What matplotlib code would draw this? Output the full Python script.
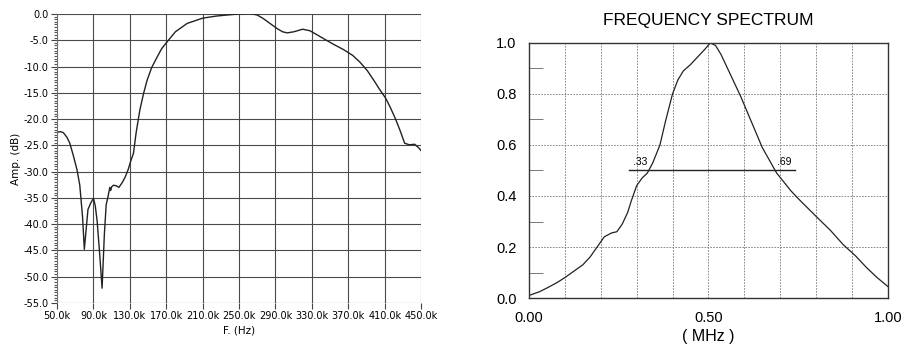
import matplotlib as mpl
import matplotlib.pyplot as plt
import numpy as np

# left panel: amplitude response (kHz, dB)
fKhz = [50, 54, 57, 61, 64, 68, 72, 75, 78, 80, 82, 84, 87, 90, 92, 94, 97, 99.5,
        102, 104, 106, 108, 109, 110, 112, 115, 118, 122, 125, 128, 131, 134, 137,
        141, 145, 149, 154, 160, 165, 171, 180, 193, 210, 225, 237, 250, 262, 270,
        276, 284, 292, 298, 303, 310, 320, 328, 336, 345, 353, 365, 375, 383, 391,
        398, 405, 411, 416, 422, 427, 432, 437, 443, 447, 450]
ampDb = [-22.5, -22.4, -22.6, -23.5, -24.6, -27.0, -29.7, -32.6, -38.5, -44.8, -41.0,
         -37.2, -36.0, -35.1, -36.5, -39.3, -46.0, -52.2, -42.0, -36.3, -34.8, -33.0,
         -33.6, -32.9, -32.6, -32.7, -33.0, -32.0, -31.0, -29.7, -28.0, -26.5, -22.5,
         -18.3, -15.2, -12.6, -10.2, -8.2, -6.6, -5.3, -3.4, -1.8, -0.8, -0.4, -0.2,
         0.0, 0.1, -0.2, -0.8, -1.8, -2.8, -3.4, -3.6, -3.4, -2.9, -3.2, -4.0, -4.9,
         -5.7, -6.8, -7.9, -9.2, -10.8, -12.6, -14.5, -16.0, -17.7, -20.0, -22.2,
         -24.6, -24.9, -24.8, -25.4, -26.0]

# right panel: normalised spectrum (MHz)
fMhz = [0.00, 0.03, 0.058, 0.08, 0.10, 0.125, 0.15, 0.17, 0.19, 0.21, 0.23, 0.245,
        0.26, 0.275, 0.285, 0.30, 0.315, 0.33, 0.345, 0.365, 0.38, 0.40, 0.415, 0.43,
        0.45, 0.47, 0.49, 0.505, 0.52, 0.535, 0.55, 0.57, 0.59, 0.62, 0.65, 0.67,
        0.69, 0.71, 0.73, 0.75, 0.775, 0.80, 0.84, 0.875, 0.91, 0.94, 0.97, 1.00]
spec = [0.01, 0.025, 0.045, 0.062, 0.08, 0.105, 0.13, 0.16, 0.20, 0.24, 0.255, 0.26,
        0.29, 0.335, 0.38, 0.44, 0.47, 0.49, 0.53, 0.60, 0.69, 0.80, 0.855, 0.89,
        0.915, 0.945, 0.975, 1.0, 0.99, 0.955, 0.91, 0.85, 0.79, 0.69, 0.59, 0.54,
        0.49, 0.455, 0.42, 0.39, 0.355, 0.32, 0.265, 0.21, 0.165, 0.12, 0.08, 0.045]
halfLevel = 0.5
halfLo, halfHi = 0.33, 0.69
halfLineX = [0.28, 0.74]

fig = plt.figure(figsize=(9.01, 3.49), dpi=100, facecolor="w")

# ---- left: amplitude in dB
ax1 = fig.add_axes([0.0633, 0.132, 0.404, 0.828])
ax1.plot(fKhz, ampDb, "-", color="#222222", lw=1.0)
ax1.set_xlim(50, 450)
ax1.set_ylim(-55, 0)
xt = np.arange(50, 451, 40)
ax1.set_xticks(xt)
ax1.set_xticklabels(["%.1fk" % v for v in xt])
yt = np.arange(-55, 1, 5)
ax1.set_yticks(yt)
ax1.set_yticklabels(["%.1f" % v for v in yt])
ax1.set_yticks(np.arange(-55, 0.1, 0.5), minor=True)
ax1.grid(True, which="major", color="#4a4a4a", lw=0.8)
for s in ["top", "right", "bottom"]:
  ax1.spines[s].set_visible(False)
ax1.spines["left"].set_color("#777777")
ax1.spines["left"].set_linewidth(0.6)
ax1.tick_params(axis="both", which="major", labelsize=7, length=4, width=0.8,
                color="#444444", pad=2)
ax1.tick_params(axis="y", which="minor", length=2.5, width=0.8, color="#555555")
ax1.set_xlabel("F. (Hz)", fontsize=7.5, labelpad=3)
ax1.set_ylabel("Amp. (dB)", fontsize=7.5, labelpad=2)

# ---- right: frequency spectrum
ax2 = fig.add_axes([0.587, 0.146, 0.3985, 0.731])
ax2.plot(fMhz, spec, "-", color="#222222", lw=0.9)
ax2.plot(halfLineX, [halfLevel, halfLevel], "-", color="#222222", lw=1.0)
ax2.text(halfLo, halfLevel + 0.015, ".33", ha="right", va="bottom",
         fontsize=7.5, family="Liberation Sans")
ax2.text(halfHi, halfLevel + 0.015, ".69", ha="left", va="bottom",
         fontsize=7.5, family="Liberation Sans")
ax2.set_xlim(0, 1)
ax2.set_ylim(0, 1)
ax2.set_xticks([0, 0.5, 1.0])
ax2.set_xticklabels(["0.00", "0.50", "1.00"])
ax2.set_xticks(np.arange(0, 1.01, 0.1), minor=True)
ax2.set_yticks(np.arange(0, 1.01, 0.2))
ax2.set_yticklabels(["0.0", "0.2", "0.4", "0.6", "0.8", "1.0"])
ax2.set_yticks(np.arange(0.1, 1.0, 0.2), minor=True)
ax2.grid(True, which="both", axis="x", color="#777777", lw=0.6, ls=(0, (2, 1.5)))
ax2.grid(True, which="major", axis="y", color="#777777", lw=0.6, ls=(0, (2, 1.5)))
for s in ax2.spines.values():
  s.set_color("#333333")
  s.set_linewidth(1.0)
ax2.tick_params(axis="both", which="major", labelsize=10.5, length=0, pad=9)
ax2.tick_params(axis="x", which="minor", length=0)
ax2.tick_params(axis="y", which="minor", direction="in", length=10, width=0.7,
                color="#777777")
for lab in ax2.get_xticklabels() + ax2.get_yticklabels():
  lab.set_family("Liberation Sans")
ax2.set_xlabel("( MHz )", fontsize=11.5, family="Liberation Sans", labelpad=3)
ax2.set_title("FREQUENCY SPECTRUM", fontsize=12.5, family="Liberation Sans", pad=13)

plt.savefig("out.png", dpi=100)
